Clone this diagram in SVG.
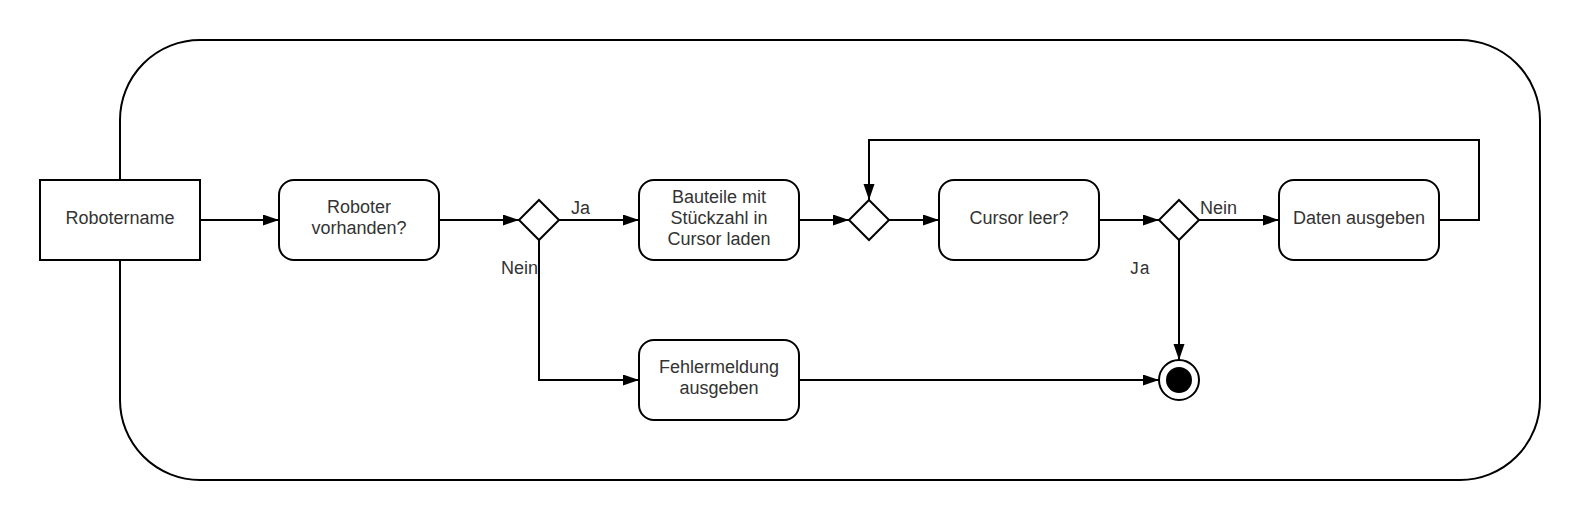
<svg xmlns="http://www.w3.org/2000/svg" width="1580" height="520" viewBox="0 0 1580 520">
<style>
.box{fill:#fff;stroke:#000;stroke-width:2}
.ln{fill:none;stroke:#000;stroke-width:2}
.t{font-family:"Liberation Sans",Arial,sans-serif;font-size:18px;fill:#333;text-anchor:middle}
.lbl{font-family:"Liberation Sans",Arial,sans-serif;font-size:18px;fill:#333}
.mono{font-family:"Liberation Mono","Courier New",monospace;font-size:17.5px;fill:#333}
</style>
<defs>
<marker id="arr" markerUnits="userSpaceOnUse" markerWidth="18" markerHeight="12" refX="16" refY="5.5" orient="auto">
<path d="M0,0 L16,5.5 L0,11 z" fill="#000"/>
</marker>
</defs>
<rect x="0" y="0" width="1580" height="520" fill="#fff"/>
<g id="container"><rect class="box" x="120" y="40" width="1420" height="440" rx="80" ry="80"/></g>
<g id="connectors">
<path class="ln" d="M200,220 H279" marker-end="url(#arr)"/>
<path class="ln" d="M439,220 H519" marker-end="url(#arr)"/>
<path class="ln" d="M559,220 H639" marker-end="url(#arr)"/>
<path class="ln" d="M539,240 V380 H639" marker-end="url(#arr)"/>
<path class="ln" d="M799,220 H849" marker-end="url(#arr)"/>
<path class="ln" d="M889,220 H939" marker-end="url(#arr)"/>
<path class="ln" d="M1099,220 H1159" marker-end="url(#arr)"/>
<path class="ln" d="M1199,220 H1279" marker-end="url(#arr)"/>
<path class="ln" d="M1439,220 H1479 V140 H869 V200" marker-end="url(#arr)"/>
<path class="ln" d="M1179,240 V360" marker-end="url(#arr)"/>
<path class="ln" d="M799,380 H1159" marker-end="url(#arr)"/>
<text class="lbl" x="571" y="214">Ja</text>
<text class="lbl" x="501" y="274">Nein</text>
<text class="lbl" x="1200" y="214">Nein</text>
<text class="mono" x="1129" y="274">Ja</text>
</g>
<g id="robotername"><rect class="box" x="40" y="180" width="160" height="80"/><text class="t" x="120" y="224">Robotername</text></g>
<g id="roboter-vorhanden"><rect class="box" x="279" y="180" width="160" height="80" rx="15"/><text class="t" x="359" y="213">Roboter</text><text class="t" x="359" y="234">vorhanden?</text></g>
<g id="d1"><path class="box" d="M539,200 L559,220 L539,240 L519,220 z"/></g>
<g id="bauteile"><rect class="box" x="639" y="180" width="160" height="80" rx="15"/><text class="t" x="719" y="203">Bauteile mit</text><text class="t" x="719" y="224">Stückzahl in</text><text class="t" x="719" y="245">Cursor laden</text></g>
<g id="d2"><path class="box" d="M869,200 L889,220 L869,240 L849,220 z"/></g>
<g id="cursor-leer"><rect class="box" x="939" y="180" width="160" height="80" rx="15"/><text class="t" x="1019" y="224">Cursor leer?</text></g>
<g id="d3"><path class="box" d="M1179,200 L1199,220 L1179,240 L1159,220 z"/></g>
<g id="daten"><rect class="box" x="1279" y="180" width="160" height="80" rx="15"/><text class="t" x="1359" y="224">Daten ausgeben</text></g>
<g id="fehler"><rect class="box" x="639" y="340" width="160" height="80" rx="15"/><text class="t" x="719" y="373">Fehlermeldung</text><text class="t" x="719" y="394">ausgeben</text></g>
<g id="end"><circle class="box" cx="1179" cy="380" r="20"/><circle cx="1179" cy="380" r="13" fill="#000"/></g>
</svg>
